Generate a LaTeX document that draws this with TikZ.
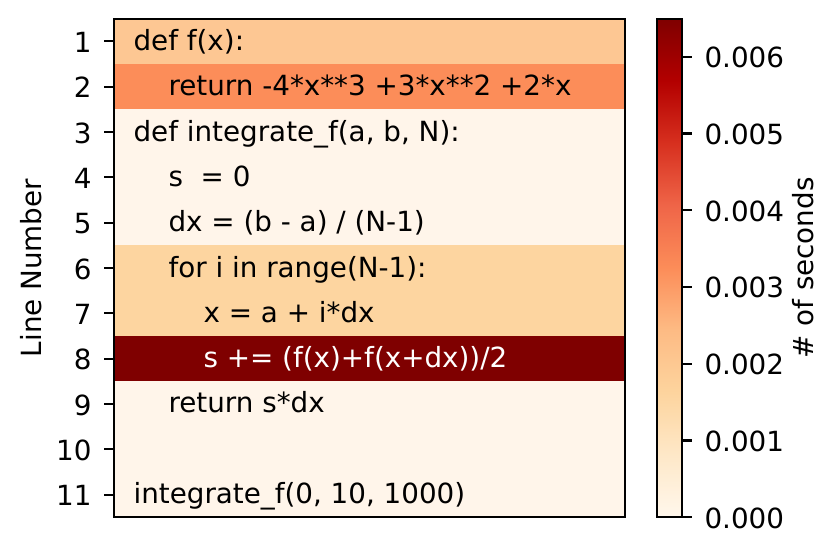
\documentclass[tikz,border=0pt]{standalone}
\usepackage{fontspec}
\setmainfont{DejaVu Sans}
\usetikzlibrary{positioning,calc}
\definecolor{cbar0}{HTML}{FFF7EC}
\definecolor{cbar1}{HTML}{FEE8C8}
\definecolor{cbar2}{HTML}{FDD49E}
\definecolor{cbar3}{HTML}{FDBB84}
\definecolor{cbar4}{HTML}{FC8D59}
\definecolor{cbar5}{HTML}{EF6548}
\definecolor{cbar6}{HTML}{D7301F}
\definecolor{cbar7}{HTML}{B30000}
\definecolor{cbar8}{HTML}{7F0000}
\definecolor{rowlow}{HTML}{FFF5EA}
\definecolor{rowone}{HTML}{FDC793}
\definecolor{rowtwo}{HTML}{FC8D59}
\definecolor{rowloop}{HTML}{FDD5A0}
\definecolor{rowhot}{HTML}{7F0000}
\begin{document}
\begin{tikzpicture}[x=0.36pt,y=-0.36pt,
  every node/.style={font=\fontsize{10pt}{12pt}\selectfont},
  codeline/.style={anchor=base west,inner sep=0pt},
  ticklabel/.style={inner sep=0pt},
  axisline/.style={line width=0.8pt,black}]
\useasboundingbox (0,0) rectangle (840,555);
% rows of the line profile
\foreach \n/\c in {1/rowone,2/rowtwo,3/rowlow,4/rowlow,5/rowlow,6/rowloop,7/rowloop,8/rowhot,9/rowlow,10/rowlow,11/rowlow}
  \fill[\c] (114,{18.7+(\n-1)*45.33}) rectangle (625,{18.7+\n*45.33});
% source lines
\foreach \n/\ind/\txt in {1/0/{def f(x):},2/1/{return -4*x**3 +3*x**2 +2*x},3/0/{def integrate\_f(a, b, N):},4/1/{s\ \ = 0},5/1/{dx = (b - a) / (N-1)},6/1/{for i in range(N-1):},7/2/{x = a + i*dx},9/1/{return s*dx},11/0/{integrate\_f(0, 10, 1000)}}
  \node[codeline] (code\n) at ({133+\ind*35},{18.7+(\n-0.5)*45.33+9}) {\txt};
\node[codeline,white] (code8) at (203,{18.7+7.5*45.33+9}) {s += (f(x)+f(x+dx))/2};
% left axis
\draw[axisline] (114,18.7) rectangle (625,517.3);
\foreach \n in {1,...,11}{
  \coordinate (tick\n) at (114,{18.7+(\n-0.5)*45.33});
  \draw[axisline] (tick\n) -- ++(-9.7,0);
  \node[ticklabel,anchor=base east] (lab\n) at ($(tick\n)+(-22,11)$) {\n};
}
\node[rotate=90] (ylab) at (31,268) {Line Number};
% colorbar
\foreach \i [evaluate=\i as \j using int(\i+1)] in {0,...,7}
  \shade[bottom color=cbar\i,top color=cbar\j] (657,{517.3-\i*62.33}) rectangle (682,{517.3-(\i+1)*62.33});
\draw[axisline] (657,18.7) rectangle (682,517.3);
\foreach \k in {0,...,6}{
  \coordinate (ctick\k) at (682,{517.3-\k*76.77});
  \draw[axisline] (ctick\k) -- ++(9.7,0);
  \node[ticklabel,anchor=base west] (clab\k) at ($(ctick\k)+(22,11)$) {0.00\k};
}
\node[rotate=90] (clabel) at (803,268) {\# of seconds};
\end{tikzpicture}
\end{document}
